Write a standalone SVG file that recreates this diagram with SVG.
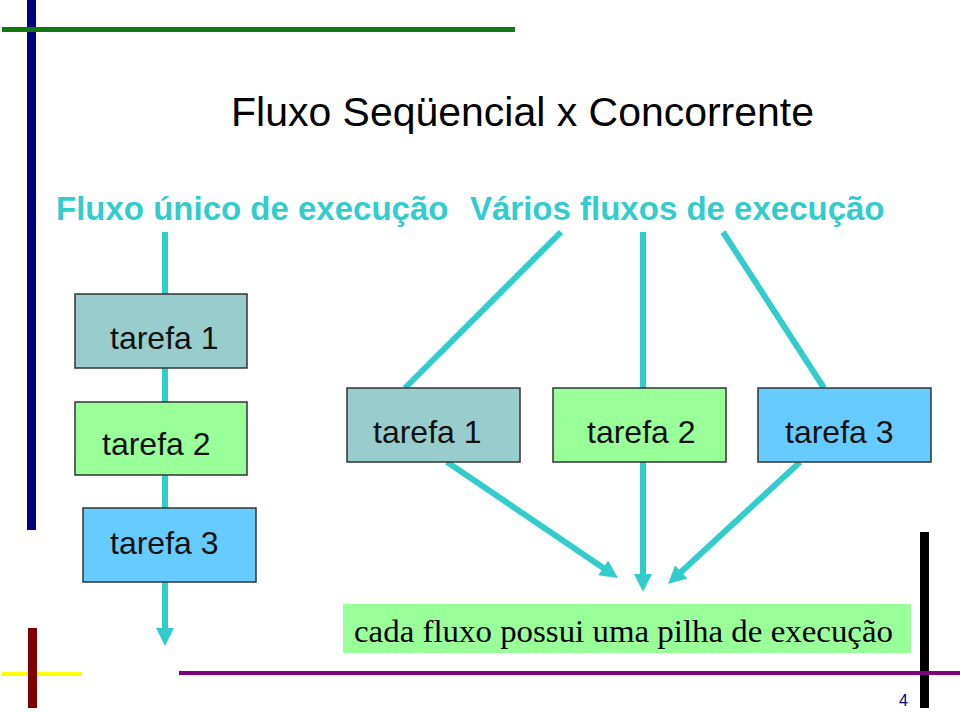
<svg xmlns="http://www.w3.org/2000/svg" width="960" height="712" viewBox="0 0 960 712">
<style>
.t{font-family:"Liberation Sans",Arial,sans-serif;fill:#000}
.sub{font-family:"Liberation Sans",Arial,sans-serif;font-weight:bold;font-size:33px;fill:#33CCCC}
.box{stroke:#333;stroke-width:1.5}
.c1{fill:#99CCCC}.c2{fill:#99FF99}.c3{fill:#66CCFF}
.lbl{font-family:"Liberation Sans",Arial,sans-serif;font-size:32px;fill:#111}
.conn{stroke:#33CCCC;stroke-width:6;fill:none}
</style>
<defs>
<marker id="ah" viewBox="0 0 18 18" markerWidth="18" markerHeight="18" refX="4" refY="9" markerUnits="userSpaceOnUse" orient="auto">
<path d="M0,0 L18,9 L0,18 z" fill="#33CCCC"/>
</marker>
</defs>
<rect width="960" height="712" fill="#fff"/>
<g id="decor">
<rect x="27" y="0" width="9" height="530" fill="#000080"/>
<rect x="2" y="27" width="513" height="5" fill="#117711"/>
<rect x="2" y="672" width="80" height="4" fill="#FFFF00"/>
<rect x="28" y="628" width="9" height="80" fill="#800000"/>
<rect x="920" y="532" width="9" height="176" fill="#000"/>
<rect x="179" y="671" width="781" height="4" fill="#800080"/>
<text x="899" y="706" font-family="Liberation Sans,Arial,sans-serif" font-size="16" fill="#000080">4</text>
</g>
<g id="title">
<text class="t" x="231" y="126" font-size="40" textLength="583" lengthAdjust="spacingAndGlyphs">Fluxo Seqüencial x Concorrente</text>
<text class="sub" x="56" y="220">Fluxo único de execução</text>
<text class="sub" x="470" y="220">Vários fluxos de execução</text>
</g>
<g id="connectors">
<line class="conn" x1="165" y1="232" x2="165" y2="632" marker-end="url(#ah)"/>
<line class="conn" x1="561" y1="232" x2="405" y2="388"/>
<line class="conn" x1="643" y1="232" x2="643" y2="388"/>
<line class="conn" x1="723" y1="232" x2="824" y2="388"/>
<line class="conn" x1="447" y1="462" x2="606.4" y2="570.1" marker-end="url(#ah)"/>
<line class="conn" x1="643" y1="462" x2="643" y2="578" marker-end="url(#ah)"/>
<line class="conn" x1="800" y1="462" x2="678.3" y2="574.5" marker-end="url(#ah)"/>
</g>
<g id="seq-tarefa1">
<rect class="box c1" x="75" y="294" width="172" height="74"/>
<text class="lbl" x="110" y="349">tarefa 1</text>
</g>
<g id="seq-tarefa2">
<rect class="box c2" x="75" y="402" width="172" height="73"/>
<text class="lbl" x="102" y="455">tarefa 2</text>
</g>
<g id="seq-tarefa3">
<rect class="box c3" x="83" y="508" width="173" height="74"/>
<text class="lbl" x="110" y="554">tarefa 3</text>
</g>
<g id="conc-tarefa1">
<rect class="box c1" x="347" y="388" width="173" height="74"/>
<text class="lbl" x="373" y="443">tarefa 1</text>
</g>
<g id="conc-tarefa2">
<rect class="box c2" x="553" y="388" width="173" height="74"/>
<text class="lbl" x="587" y="443">tarefa 2</text>
</g>
<g id="conc-tarefa3">
<rect class="box c3" x="758" y="388" width="173" height="74"/>
<text class="lbl" x="785" y="443">tarefa 3</text>
</g>
<g id="note">
<rect x="343" y="604" width="568" height="49" fill="#99FF99"/>
<text x="354" y="642" font-family="Liberation Serif,Times New Roman,serif" font-size="32" fill="#000" textLength="539" lengthAdjust="spacingAndGlyphs">cada fluxo possui uma pilha de execução</text>
</g>
</svg>
